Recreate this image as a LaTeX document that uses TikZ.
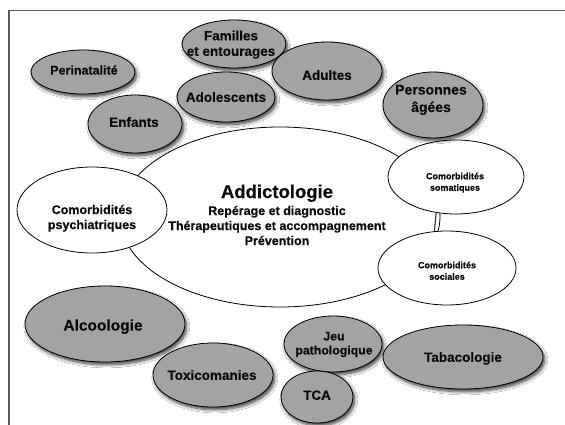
\documentclass[tikz,border=0pt]{standalone}
\usepackage{fontspec}
\setmainfont{Liberation Sans}[BoldFont={Liberation Sans Bold},BoldFeatures={FakeBold=0.4}]
\usetikzlibrary{shapes.geometric,shadows.blur}
\definecolor{ellgray}{HTML}{A3A3A3}
\definecolor{framegray}{HTML}{5A5A5A}
\definecolor{txt}{HTML}{0A0A0A}
\tikzset{
  grayell/.style={ellipse, draw=black, line width=0.8pt, fill=ellgray, inner sep=0pt,
    blur shadow={shadow xshift=1.8pt, shadow yshift=-2.8pt, shadow blur radius=3pt, shadow blur steps=8, shadow opacity=75}},
  whiteell/.style={ellipse, draw=black, line width=0.8pt, fill=white, inner sep=0pt},
  lab/.style={font=\bfseries\fontsize{13.5}{15.5}\selectfont, align=center, text=txt, inner sep=0pt, text height=9.7pt, text depth=0pt},
  smalllab/.style={font=\bfseries\fontsize{9}{11.5}\selectfont, align=center, text=txt, inner sep=0pt, text height=6.5pt, text depth=0pt},
  framel/.style={draw=framegray, line width=1.6pt},
  conn/.style={draw=black!80, line width=1.1pt}
}
\begin{document}
\begin{tikzpicture}[x=1pt,y=-1pt]
\useasboundingbox (0,0) rectangle (565,425);
\fill[white] (0,0) rectangle (565,425);
\draw[framel] (565,10.5) -- (9,10.5) -- (9,425);

% central ellipse and comorbidities
\node[whiteell, minimum width=320pt, minimum height=180pt] (addic) at (280,217) {};
\node[whiteell, minimum width=150pt, minimum height=86pt] (psy) at (92,210) {};
\node[whiteell, minimum width=136pt, minimum height=74pt] (som) at (456,177) {};
\node[whiteell, minimum width=138pt, minimum height=74pt] (soc) at (447,268) {};
\draw[conn] (som.241) -- (soc.109);

% (multi-line labels are placed by the cap centre of their last line)
\node[lab, text height=9pt, font=\bfseries\fontsize{12.5}{15}\selectfont] (addict) at (277,240.5)
  {{\fontsize{18.5}{17}\selectfont Addictologie}\\[2pt] Repérage et diagnostic\\ Thérapeutiques et accompagnement\\ Prévention};
\node[lab, font=\bfseries\fontsize{12.5}{15}\selectfont, text height=9pt] (psyt) at (92,224.5) {Comorbidités\\ psychiatriques};
\node[smalllab] (somt) at (455,187.5) {Comorbidités\\ somatiques};
\node[smalllab] (soct) at (447,276.5) {Comorbidités\\ sociales};

% populations
\node[grayell, minimum width=104pt, minimum height=44pt] (peri) at (83,72) {};
\node[grayell, minimum width=94pt, minimum height=58pt] (enf) at (135,124) {};
\node[grayell, minimum width=104pt, minimum height=48pt] (fam) at (234,44) {};
\node[grayell, minimum width=98pt, minimum height=50pt] (ado) at (226,97) {};
\node[grayell, minimum width=110pt, minimum height=58pt] (adu) at (327,71) {};
\node[grayell, minimum width=100pt, minimum height=66pt] (pa) at (433,105) {};

\node[lab, font=\bfseries\fontsize{12.5}{15}\selectfont, text height=9pt] (perit) at (84,70) {Perinatalité};
\node[lab] (enft) at (134,122) {Enfants};
\node[lab] (famt) at (231,51) {Familles\\ et entourages};
\node[lab] (adot) at (226,97) {Adolescents};
\node[lab] (adut) at (327,75) {Adultes};
\node[lab, font=\bfseries\fontsize{14}{17.5}\selectfont, text height=10pt] (pat) at (431,107) {Personnes\\ âgées};

% products / behaviours
\node[grayell, minimum width=160pt, minimum height=76pt] (alc) at (105,324) {};
\node[grayell, minimum width=120pt, minimum height=64pt] (tox) at (213,375) {};
\node[grayell, minimum width=98pt, minimum height=56pt] (jeu) at (333,344) {};
\node[grayell, minimum width=72pt, minimum height=52pt] (tca) at (317,397) {};
\node[grayell, minimum width=160pt, minimum height=64pt] (tab) at (463,357) {};

\node[lab, font=\bfseries\fontsize{15.5}{18}\selectfont, text height=11.2pt] (alct) at (103,325) {Alcoologie};
\node[lab] (toxt) at (212,375) {Toxicomanies};
\node[lab, font=\bfseries\fontsize{12.3}{14}\selectfont, text height=8.9pt] (jeut) at (334,350) {Jeu\\ pathologique};
\node[lab] (tcat) at (317,395) {TCA};
\node[lab] (tabt) at (463,357) {Tabacologie};
\end{tikzpicture}
\end{document}
